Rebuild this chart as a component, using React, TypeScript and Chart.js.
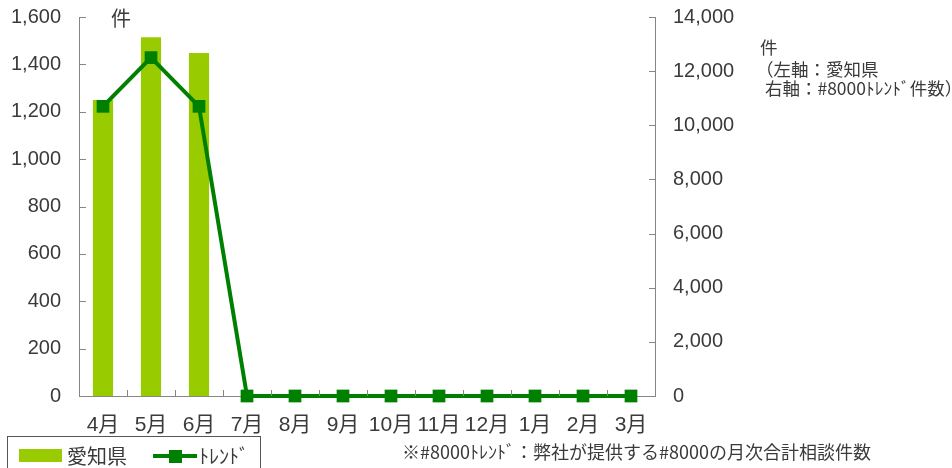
import React, { useEffect, useRef } from "react";
import { Chart, registerables } from "chart.js";

Chart.register(...registerables);

const months = ["4月", "5月", "6月", "7月", "8月", "9月", "10月", "11月", "12月", "1月", "2月", "3月"];
const aichiCounts = [1250, 1515, 1448, null, null, null, null, null, null, null, null, null];
const trendCounts = [10700, 12500, 10700, 0, 0, 0, 0, 0, 0, 0, 0, 0];
const leftTicks = [0, 200, 400, 600, 800, 1000, 1200, 1400, 1600];
const rightTicks = [0, 2000, 4000, 6000, 8000, 10000, 12000, 14000];

const barLabel = "愛知県";
const lineLabel = "ﾄﾚﾝﾄﾞ";
const leftUnit = "件";
const rightNote = ["件", "（左軸：愛知県", " 右軸：#8000ﾄﾚﾝﾄﾞ件数）"];
const footnote = "※#8000ﾄﾚﾝﾄﾞ：弊社が提供する#8000の月次合計相談件数";

const BAR_COLOR = "#99cc00";
const LINE_COLOR = "#008000";
const AXIS_COLOR = "#868686";
const TEXT_COLOR = "#3a3a3a";
const FONT = '"Liberation Sans", "Noto Sans CJK JP", sans-serif';
const CJK = '"Noto Sans CJK JP", sans-serif';

const decorPlugin = {
  id: "decor",
  afterDraw(chart: any) {
    const ctx = chart.ctx;
    const x = chart.scales.x;
    const yL = chart.scales.y;
    const yR = chart.scales.y1;
    const area = chart.chartArea;
    ctx.save();
    ctx.strokeStyle = AXIS_COLOR;
    ctx.lineWidth = 1;
    ctx.beginPath();
    leftTicks.forEach((v) => {
      const py = Math.round(yL.getPixelForValue(v)) + 0.5;
      ctx.moveTo(area.left, py);
      ctx.lineTo(area.left + 7, py);
    });
    rightTicks.forEach((v) => {
      const py = Math.round(yR.getPixelForValue(v)) + 0.5;
      ctx.moveTo(area.right - 6, py);
      ctx.lineTo(area.right, py);
    });
    for (let i = 1; i < months.length; i++) {
      const px = Math.round((x.getPixelForValue(i - 1) + x.getPixelForValue(i)) / 2) + 0.5;
      ctx.moveTo(px, area.bottom - 6);
      ctx.lineTo(px, area.bottom);
    }
    ctx.stroke();

    ctx.fillStyle = TEXT_COLOR;
    ctx.textBaseline = "middle";
    ctx.textAlign = "left";
    ctx.font = `20px ${CJK}`;
    ctx.fillText(leftUnit, 111, 18);

    ctx.font = `17.5px ${CJK}`;
    const noteY = [47, 69, 88];
    ctx.fillText(rightNote[0], 760, noteY[0]);
    ctx.fillText(rightNote[1], 756, noteY[1]);
    ctx.fillText(rightNote[2], 761, noteY[2]);

    ctx.font = `18px ${CJK}`;
    ctx.fillText(footnote, 402, 452);

    // legend
    ctx.strokeStyle = "#555555";
    ctx.lineWidth = 1;
    ctx.strokeRect(7.5, 436.5, 253, 40);
    ctx.fillStyle = BAR_COLOR;
    ctx.fillRect(19, 449, 43, 13);
    ctx.fillStyle = TEXT_COLOR;
    ctx.font = `20px ${CJK}`;
    ctx.fillText(barLabel, 67, 456);
    ctx.strokeStyle = LINE_COLOR;
    ctx.lineWidth = 4;
    ctx.beginPath();
    ctx.moveTo(153, 456);
    ctx.lineTo(197, 456);
    ctx.stroke();
    ctx.fillStyle = LINE_COLOR;
    ctx.fillRect(169, 450, 13, 13);
    ctx.fillStyle = TEXT_COLOR;
    ctx.fillText(lineLabel, 199, 456);
    ctx.restore();
  },
};

export default function App() {
  const ref = useRef<HTMLCanvasElement | null>(null);
  useEffect(() => {
    if (!ref.current) return;
    const chart = new Chart(ref.current, {
      type: "bar",
      data: {
        labels: months,
        datasets: [
          {
            type: "line",
            label: lineLabel,
            data: trendCounts,
            yAxisID: "y1",
            borderColor: LINE_COLOR,
            backgroundColor: LINE_COLOR,
            borderWidth: 4,
            pointStyle: "rect",
            pointRadius: 9,
            pointBorderWidth: 0,
            pointBackgroundColor: LINE_COLOR,
            tension: 0,
            clip: false,
            order: 0,
          } as any,
          {
            type: "bar",
            label: barLabel,
            data: aichiCounts,
            yAxisID: "y",
            backgroundColor: BAR_COLOR,
            borderWidth: 0,
            barPercentage: 0.42,
            categoryPercentage: 1,
            order: 1,
          },
        ],
      },
      options: {
        responsive: false,
        animation: false,
        devicePixelRatio: 1,
        layout: { padding: { top: 17, left: 0, right: 0, bottom: 0 } },
        plugins: { legend: { display: false }, tooltip: { enabled: false } },
        scales: {
          x: {
            grid: { display: false, drawTicks: false },
            border: { display: true, color: AXIS_COLOR, width: 1 },
            ticks: { color: TEXT_COLOR, font: { size: 21, family: FONT }, padding: 17, maxRotation: 0, autoSkip: false },
            afterFit: (s: any) => { s.height = 72; s.paddingLeft = 0; s.paddingRight = 0; },
          },
          y: {
            position: "left",
            min: 0,
            max: 1600,
            grid: { display: false, drawTicks: false },
            border: { display: true, color: AXIS_COLOR, width: 1 },
            ticks: {
              stepSize: 200,
              color: TEXT_COLOR,
              font: { size: 20, family: FONT },
              padding: 18,
              callback: (v: any) => Number(v).toLocaleString("en-US"),
            },
            afterFit: (s: any) => { s.width = 79; s.paddingTop = 0; s.paddingBottom = 0; },
          },
          y1: {
            position: "right",
            min: 0,
            max: 14000,
            grid: { display: false, drawTicks: false },
            border: { display: true, color: AXIS_COLOR, width: 1 },
            ticks: {
              stepSize: 2000,
              color: TEXT_COLOR,
              font: { size: 20, family: FONT },
              padding: 18,
              callback: (v: any) => Number(v).toLocaleString("en-US"),
            },
            afterFit: (s: any) => { s.width = 297; s.paddingTop = 0; s.paddingBottom = 0; },
          },
        },
      },
      plugins: [decorPlugin],
    });
    return () => chart.destroy();
  }, []);
  return (
    <div style={{ position: "absolute", left: 0, top: 0, width: 952, height: 468, background: "#ffffff" }}>
      <canvas ref={ref} width={952} height={468} style={{ width: 952, height: 468, display: "block" }} />
    </div>
  );
}
